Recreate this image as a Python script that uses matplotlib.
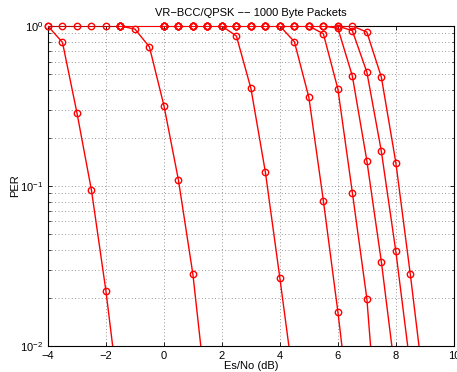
import numpy as np
import matplotlib
matplotlib.use("Agg")
import matplotlib.pyplot as plt
from matplotlib.ticker import LogLocator, FixedLocator

plt.rcParams['font.family'] = ['Liberation Sans', 'DejaVu Sans']

# Es/No (dB) and PER for each curve
x1 = [-4.0, -3.5, -3.0, -2.5, -2.0, -1.5]
y1 = [1.0, 0.79, 0.286, 0.094, 0.022, 0.004]

x2 = [-4.0, -3.5, -3.0, -2.5, -2.0, -1.5, -1.0, -0.5, 0.0, 0.5, 1.0, 1.5]
y2 = [1.0, 1.0, 1.0, 1.0, 1.0, 1.0, 0.957, 0.74, 0.318, 0.109, 0.028, 0.0042]

x3 = [-1.5, 0.0, 0.5, 1.0, 1.5, 2.0, 2.5, 3.0, 3.5, 4.0, 4.5]
y3 = [1.0, 1.0, 1.0, 1.0, 1.0, 1.0, 0.866, 0.408, 0.122, 0.0265, 0.0055]

x4 = [-1.5, 0.0, 0.5, 1.0, 1.5, 2.0, 2.5, 3.0, 3.5, 4.0, 4.5, 5.0, 5.5, 6.0, 6.5]
y4 = [1.0, 1.0, 1.0, 1.0, 1.0, 1.0, 1.0, 1.0, 1.0, 1.0, 0.798, 0.358, 0.081, 0.0164, 0.0028]

x5 = [-1.5, 0.0, 0.5, 1.0, 1.5, 2.0, 2.5, 3.0, 3.5, 4.0, 4.5, 5.0, 5.5, 6.0, 6.5, 7.0, 7.5]
y5 = [1.0, 1.0, 1.0, 1.0, 1.0, 1.0, 1.0, 1.0, 1.0, 1.0, 1.0, 1.0, 0.895, 0.405, 0.091, 0.0198, 0.0014]

x6 = [-1.5, 0.0, 0.5, 1.0, 1.5, 2.0, 2.5, 3.0, 3.5, 4.0, 4.5, 5.0, 5.5, 6.0, 6.5, 7.0, 7.5, 8.0]
y6 = [1.0, 1.0, 1.0, 1.0, 1.0, 1.0, 1.0, 1.0, 1.0, 1.0, 1.0, 1.0, 1.0, 0.97, 0.487, 0.144, 0.0337, 0.0063]

x7 = [-1.5, 0.0, 0.5, 1.0, 1.5, 2.0, 2.5, 3.0, 3.5, 4.0, 4.5, 5.0, 5.5, 6.0, 6.5, 7.0, 7.5, 8.0, 8.5]
y7 = [1.0, 1.0, 1.0, 1.0, 1.0, 1.0, 1.0, 1.0, 1.0, 1.0, 1.0, 1.0, 1.0, 1.0, 0.935, 0.516, 0.165, 0.039, 0.0074]

x8 = [-1.5, 0.0, 0.5, 1.0, 1.5, 2.0, 2.5, 3.0, 3.5, 4.0, 4.5, 5.0, 5.5, 6.0, 6.5, 7.0, 7.5, 8.0, 8.5, 9.0]
y8 = [1.0, 1.0, 1.0, 1.0, 1.0, 1.0, 1.0, 1.0, 1.0, 1.0, 1.0, 1.0, 1.0, 1.0, 1.0, 0.917, 0.48, 0.14, 0.028, 0.005]

curves = [(x1, y1), (x2, y2), (x3, y3), (x4, y4), (x5, y5), (x6, y6), (x7, y7), (x8, y8)]

xticks = [-4, -2, 0, 2, 4, 6, 8, 10]
xlabels = ['\u22124', '\u22122', '0', '2', '4', '6', '8', '10']

fig = plt.figure(figsize=(4.57, 3.72), dpi=100)
ax = fig.add_axes([0.105, 0.070, 0.888, 0.860])

for xs, ys in curves:
	xs = np.array(xs)
	ys = np.array(ys)
	ax.plot(xs, ys, color='red', lw=1.0, zorder=3)
	keep = ys >= 0.01
	ax.plot(xs[keep], ys[keep], ls='none', marker='o', ms=4.6, mfc='none',
			mec='red', mew=1.0, clip_on=False, zorder=4)

ax.set_yscale('log')
ax.set_xlim(-4, 10)
ax.set_ylim(0.01, 1)
ax.xaxis.set_major_locator(FixedLocator(xticks))
ax.set_xticklabels(xlabels)
ax.yaxis.set_minor_locator(LogLocator(base=10, subs=np.arange(2, 10)))
ax.tick_params(which='both', direction='in', top=True, right=True, labelsize=8)
ax.tick_params(which='major', length=3, width=0.6)
ax.tick_params(which='minor', length=1.8, width=0.5)
ax.grid(True, which='major', ls=(0, (1, 3)), color='#777777', lw=0.6)
ax.grid(True, which='minor', axis='y', ls=(0, (1, 3)), color='#777777', lw=0.6)
for s in ax.spines.values():
	s.set_linewidth(0.8)

ax.set_title('VR\u2212BCC/QPSK \u2212\u2212 1000 Byte Packets', fontsize=8, pad=7)
ax.set_xlabel('Es/No (dB)', fontsize=8, labelpad=0)
ax.set_ylabel('PER', fontsize=8, labelpad=0)

fig.savefig('out.png', dpi=100)
